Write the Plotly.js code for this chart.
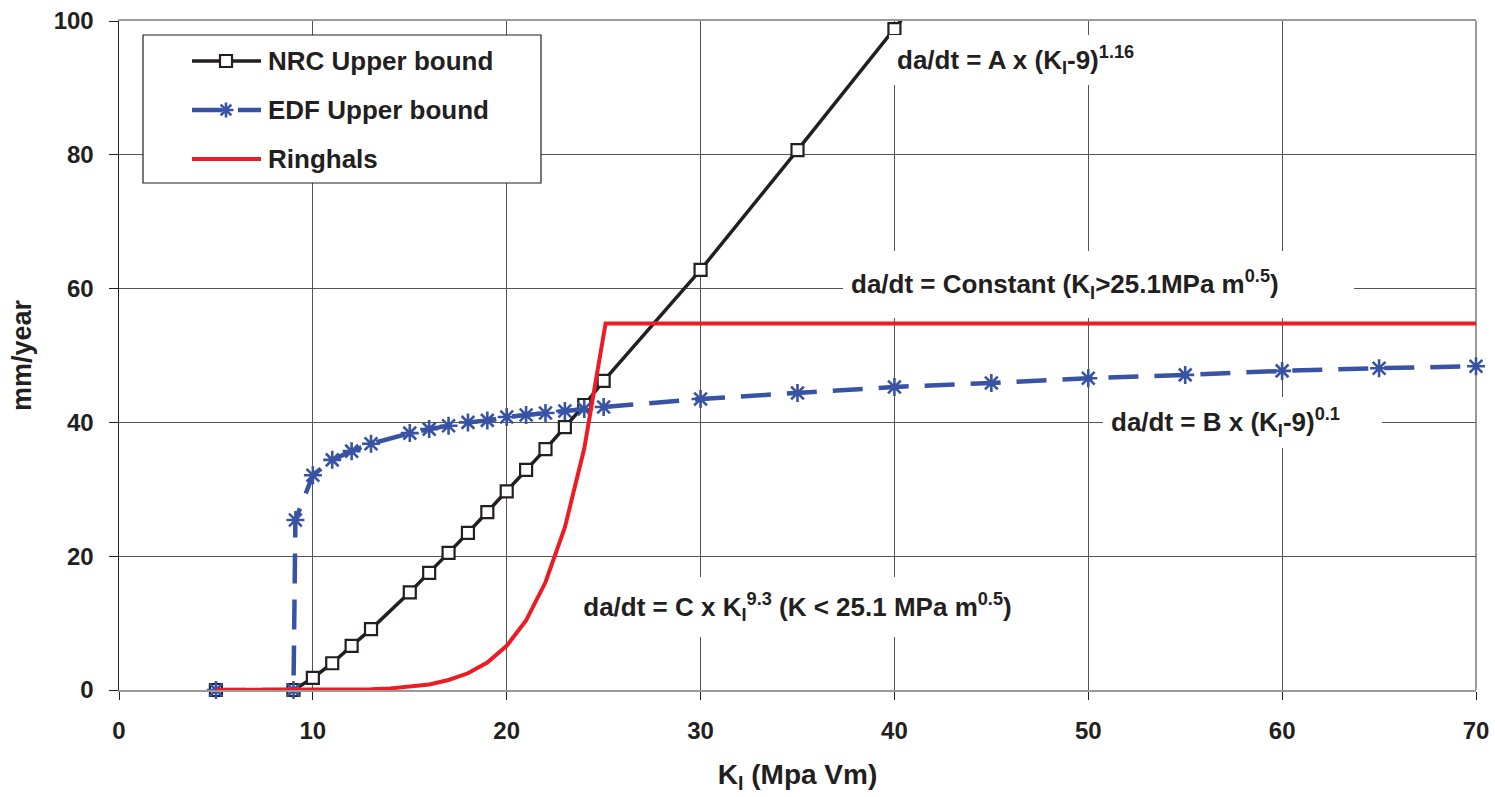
<!DOCTYPE html>
<html>
<head>
<meta charset="utf-8">
<script src="https://cdn.plot.ly/plotly-3.0.1.min.js"></script>
<style>html,body{margin:0;padding:0;background:#fff;}#chart{width:1495px;height:797px;}</style>
</head>
<body>
<div id="chart"></div>
<script>
// ---- data ----
const nrcK    = [5, 9, 10, 11, 12, 13, 15, 16, 17, 18, 19, 20, 21, 22, 23, 24, 25, 30, 35, 40, 45];
const nrcRate = [0, 0, 1.8, 4.0, 6.6, 9.1, 14.6, 17.5, 20.5, 23.5, 26.6, 29.7, 32.9, 36.0, 39.3, 42.6, 46.2, 62.8, 80.7, 98.8, 117];

const edfK    = [5, 9, 9.1, 10, 11, 12, 13, 15, 16, 17, 18, 19, 20, 21, 22, 23, 24, 25, 30, 35, 40, 45, 50, 55, 60, 65, 70];
const edfRate = [0, 0, 25.4, 32.1, 34.4, 35.7, 36.8, 38.4, 39.0, 39.5, 40.0, 40.3, 40.8, 41.1, 41.4, 41.7, 42.0, 42.3, 43.5, 44.4, 45.3, 45.9, 46.6, 47.1, 47.7, 48.1, 48.4];

const rhK    = [5, 9, 10, 11, 12, 13, 14, 15, 16, 17, 18, 19, 20, 21, 22, 23, 24, 25.1, 70];
const rhRate = [0, 0, 0.01, 0.03, 0.06, 0.12, 0.24, 0.46, 0.83, 1.5, 2.5, 4.1, 6.6, 10.4, 16.1, 24.3, 36.1, 54.8, 54.8];

const seriesNames = ['NRC Upper bound', 'EDF Upper bound', 'Ringhals'];
const xTickVals = [0, 10, 20, 30, 40, 50, 60, 70];
const yTickVals = [0, 20, 40, 60, 80, 100];

// ---- styles ----
const FONT = 'Liberation Sans, Arial, sans-serif';
const TXT = '#231f20';
const BLACK = '#231f20';
const BLUE = '#3953a4';
const RED = '#ed1c24';
const EDFDASH = '30px,16px';

// plot-area geometry helpers (pixel -> data units)
const L = 119, R = 1476, T = 21, B = 690;
const px2x = p => (p - L) / (R - L) * 70;
const py2y = p => (B - p) / (B - T) * 100;

const traces = [
  {x: nrcK, y: nrcRate, name: seriesNames[0], type: 'scatter', mode: 'lines+markers', cliponaxis: false,
   line: {color: BLACK, width: 3.5},
   marker: {symbol: 'square', size: 12, color: '#ffffff', line: {color: BLACK, width: 2.2}}},
  {x: edfK, y: edfRate, name: seriesNames[1], type: 'scatter', mode: 'lines+markers', cliponaxis: false,
   line: {color: BLUE, width: 4.5, dash: EDFDASH},
   marker: {symbol: 'asterisk-open', size: 15, color: BLUE, line: {color: BLUE, width: 2.6}}},
  {x: rhK, y: rhRate, name: seriesNames[2], type: 'scatter', mode: 'lines', cliponaxis: false,
   line: {color: RED, width: 4}}
];

const annFont = {family: FONT, size: 26, color: TXT, weight: 'bold'};
function boxAnn(text, leftPx, topPx, rightPx, botPx, align) {
  const pad = 8;
  return {xref: 'x', yref: 'y', x: px2x(leftPx), y: py2y(topPx), xanchor: 'left', yanchor: 'top',
    text: text, showarrow: false, font: annFont, bgcolor: '#ffffff', borderpad: pad, borderwidth: 0,
    width: (rightPx - leftPx) - 2 * pad, height: (botPx - topPx) - 2 * pad, align: align || 'left', valign: 'middle'};
}

const annotations = [
  boxAnn('da/dt = A x (K<sub>I</sub>-9)<sup>1.16</sup>', 889, 35, 1165, 85),
  boxAnn('da/dt = Constant (K<sub>I</sub>>25.1MPa m<sup>0.5</sup>)', 843, 251, 1354, 318),
  boxAnn('da/dt = B x (K<sub>I</sub>-9)<sup>0.1</sup>', 1103, 397, 1382, 448),
  boxAnn('da/dt = C x K<sub>I</sub><sup>9.3</sup> (K < 25.1 MPa m<sup>0.5</sup>)', 565, 577, 1030, 637, 'center')
];

// manual legend (box, symbols, labels)
const legY = [61, 110, 159];
const legX0 = 192, legX1 = 261, legMk = 226, legTxt = 266;
const shapes = [
  {type: 'line', xref: 'paper', yref: 'paper', x0: 1, x1: 1, y0: 0, y1: 1, line: {color: '#9a9a9a', width: 2}, layer: 'below'},
  {type: 'rect', xref: 'x', yref: 'y', x0: px2x(143), x1: px2x(541), y0: py2y(35), y1: py2y(183),
   fillcolor: '#ffffff', line: {color: BLACK, width: 1.2}, layer: 'above'},
  {type: 'line', xref: 'x', yref: 'y', x0: px2x(legX0), x1: px2x(legX1), y0: py2y(legY[0]), y1: py2y(legY[0]),
   line: {color: BLACK, width: 3.5}, layer: 'above'},
  {type: 'rect', xref: 'x', yref: 'y', xsizemode: 'pixel', ysizemode: 'pixel', xanchor: px2x(legMk), yanchor: py2y(legY[0]),
   x0: -6, x1: 6, y0: -6, y1: 6, fillcolor: '#ffffff', line: {color: BLACK, width: 2.2}, layer: 'above'},
  {type: 'line', xref: 'x', yref: 'y', x0: px2x(legX0), x1: px2x(legX1), y0: py2y(legY[1]), y1: py2y(legY[1]),
   line: {color: BLUE, width: 4.5, dash: EDFDASH}, layer: 'above'},
  {type: 'path', xref: 'x', yref: 'y', xsizemode: 'pixel', ysizemode: 'pixel', xanchor: px2x(legMk), yanchor: py2y(legY[1]),
   path: 'M-7.5,0H7.5M0,-7.5V7.5M-5.3,-5.3L5.3,5.3M-5.3,5.3L5.3,-5.3', line: {color: BLUE, width: 2.6}, layer: 'above'},
  {type: 'line', xref: 'x', yref: 'y', x0: px2x(legX0), x1: px2x(legX1), y0: py2y(legY[2]), y1: py2y(legY[2]),
   line: {color: RED, width: 4}, layer: 'above'}
];
seriesNames.forEach((n, i) => {
  annotations.push({xref: 'x', yref: 'y', x: px2x(legTxt), y: py2y(legY[i]), xanchor: 'left', yanchor: 'middle',
    text: n, showarrow: false, font: annFont});
});

const axisFont = {family: FONT, size: 24, color: TXT, weight: 'bold'};
const layout = {
  width: 1495, height: 797,
  margin: {l: L, r: 1495 - R, t: T, b: 797 - B, pad: 0},
  paper_bgcolor: '#ffffff', plot_bgcolor: '#ffffff',
  showlegend: false,
  font: {family: FONT, color: TXT, weight: 'bold'},
  xaxis: {
    range: [0, 70], tickvals: xTickVals, ticktext: xTickVals.map(String),
    showgrid: true, gridcolor: '#555555', gridwidth: 1, zeroline: false,
    showline: true, linecolor: '#9a9a9a', linewidth: 2, mirror: true,
    ticks: 'outside', ticklen: 8, tickcolor: BLACK, tickwidth: 1,
    tickfont: axisFont, ticklabelstandoff: 10,
    title: {text: 'K<sub>I</sub> (Mpa Vm)', font: {family: FONT, size: 28, color: TXT, weight: 'bold'}, standoff: 22}
  },
  yaxis: {
    range: [0, 100], tickvals: yTickVals, ticktext: yTickVals.map(String),
    showgrid: true, gridcolor: '#555555', gridwidth: 1, zeroline: false,
    showline: true, linecolor: BLACK, linewidth: 1.5, mirror: false,
    ticks: 'outside', ticklen: 9, tickcolor: BLACK, tickwidth: 1,
    tickfont: axisFont, ticklabelstandoff: 10,
    title: {text: 'mm/year', font: {family: FONT, size: 27, color: TXT, weight: 'bold'}, standoff: 14}
  },
  shapes: shapes,
  annotations: annotations
};

Plotly.newPlot('chart', traces, layout, {staticPlot: true, displayModeBar: false});
</script>
</body>
</html>
